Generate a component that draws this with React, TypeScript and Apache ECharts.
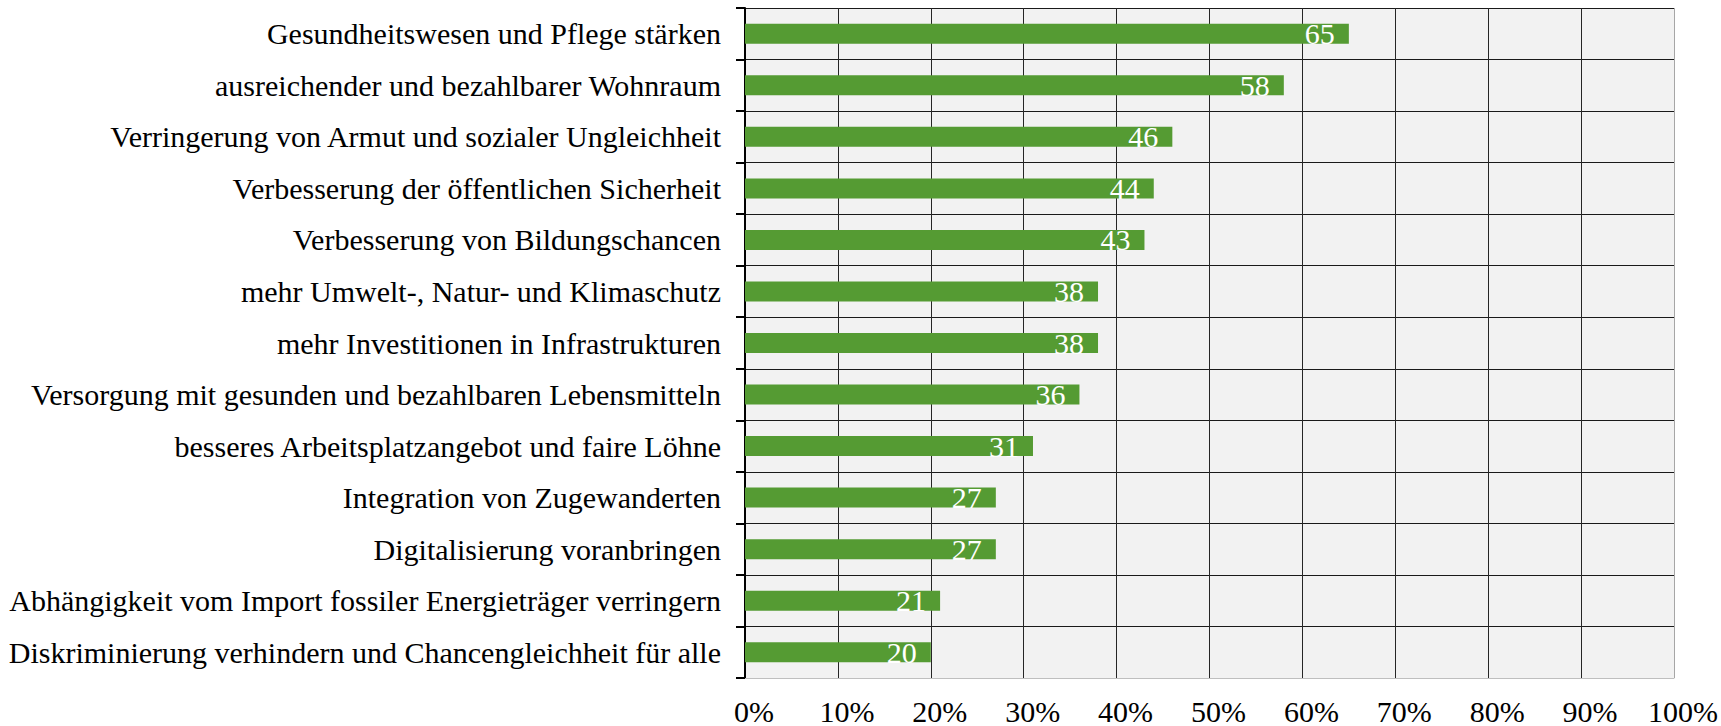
import React, { useEffect, useRef } from "react";
import * as echarts from "echarts";

const categories = [
  "Gesundheitswesen und Pflege stärken",
  "ausreichender und bezahlbarer Wohnraum",
  "Verringerung von Armut und sozialer Ungleichheit",
  "Verbesserung der öffentlichen Sicherheit",
  "Verbesserung von Bildungschancen",
  "mehr Umwelt-, Natur- und Klimaschutz",
  "mehr Investitionen in Infrastrukturen",
  "Versorgung mit gesunden und bezahlbaren Lebensmitteln",
  "besseres Arbeitsplatzangebot und faire Löhne",
  "Integration von Zugewanderten",
  "Digitalisierung voranbringen",
  "Abhängigkeit vom Import fossiler Energieträger verringern",
  "Diskriminierung verhindern und Chancengleichheit für alle",
];
const values = [65, 58, 46, 44, 43, 38, 38, 36, 31, 27, 27, 21, 20];
const xMin = 0;
const xMax = 100;
const xStep = 10;

const FONT = "'Liberation Serif', serif";

export default function App() {
  const ref = useRef<HTMLDivElement>(null);
  useEffect(() => {
    document.body.style.margin = "0";
    if (!ref.current) return;
    const chart = echarts.init(ref.current, undefined, { renderer: "svg" });
    const nLines = (xMax - xMin) / xStep + 1;
    const vColors = Array.from({ length: nLines }, (_, i) =>
      i === nLines - 1 ? "#a6a6a6" : "#262626"
    );
    chart.setOption({
      animation: false,
      backgroundColor: "#ffffff",
      grid: {
        left: 745,
        right: 46,
        top: 8,
        bottom: 47,
        containLabel: false,
        show: true,
        backgroundColor: "#f2f2f2",
        borderWidth: 0,
      },
      xAxis: {
        type: "value",
        min: xMin,
        max: xMax,
        interval: xStep,
        axisLine: { show: true, lineStyle: { color: "#bfbfbf", width: 1 } },
        axisTick: { show: false },
        splitLine: { show: true, lineStyle: { color: vColors, width: 1 } },
        axisLabel: {
          formatter: "{value}%",
          fontSize: 30,
          fontFamily: FONT,
          color: "#000",
          margin: 18,
          padding: [0, 0, 0, 18],
        },
      },
      yAxis: {
        type: "category",
        inverse: true,
        data: categories,
        axisLine: { show: true, lineStyle: { color: "#000", width: 2 } },
        axisTick: { show: true, length: 9, lineStyle: { color: "#000", width: 2 } },
        splitLine: { show: true, lineStyle: { color: "#1a1a1a", width: 1 } },
        axisLabel: {
          fontSize: 30,
          fontFamily: FONT,
          color: "#000",
          margin: 24,
        },
      },
      series: [
        {
          type: "bar",
          data: values,
          barWidth: 20,
          itemStyle: { color: "#559b33" },
          label: {
            show: true,
            position: "insideRight",
            distance: 14,
            color: "#ffffff",
            fontSize: 30,
            fontFamily: FONT,
          },
        },
      ],
    });
    return () => chart.dispose();
  }, []);
  return <div ref={ref} style={{ width: 1721, height: 726 }} />;
}
